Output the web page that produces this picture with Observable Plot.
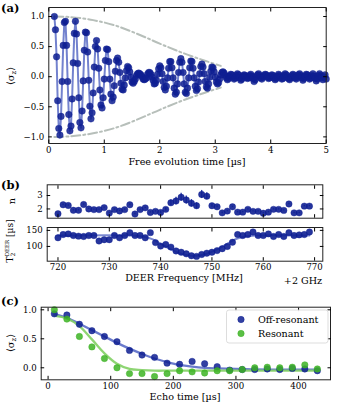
<!DOCTYPE html>
<html><head><meta charset="utf-8">
<script src="https://cdn.jsdelivr.net/npm/d3@7"></script>
<script src="https://cdn.jsdelivr.net/npm/@observablehq/plot@0.6"></script>
<style>
body{margin:0;background:#fff;}
#fig{position:relative;width:339px;height:414px;overflow:hidden;background:#fff;font-family:"DejaVu Serif",serif;}
#fig svg{position:absolute;left:0;}
</style></head><body><div id="fig"></div>
<script>
// ---------- Panel (a): free evolution ----------
const tStart = 0.1, tStep = 0.02;
const decayZ = [
 1.00, 0.78, 0.33,-0.40,-0.86,-0.97,-0.66,-0.08, 0.52, 0.90,
 0.92, 0.52,-0.08,-0.63,-0.90,-0.82,-0.37, 0.23, 0.72, 0.92,
 0.71, 0.22,-0.35,-0.76,-0.85,-0.57,-0.07, 0.44, 0.74, 0.73,
 0.41,-0.06,-0.49,-0.70,-0.60,-0.27, 0.16, 0.50, 0.60, 0.46,
 0.14,-0.22,-0.47,-0.52,-0.35,-0.04, 0.27, 0.46, 0.45, 0.25,
-0.04,-0.29,-0.40,-0.34,-0.15, 0.09, 0.27, 0.31, 0.24, 0.07,
-0.11,-0.21,-0.22,-0.14,-0.02, 0.10, 0.17, 0.15, 0.08,-0.01,
-0.09,-0.11,-0.08,-0.04, 0.02, 0.05, 0.06, 0.05, 0.03, 0.00,
-0.04,-0.05,-0.04,-0.02, 0.04, 0.07, 0.07, 0.04,-0.01,-0.06,
-0.12,-0.11,-0.06, 0.04, 0.13, 0.18, 0.15, 0.05,-0.08,-0.18,
-0.22,-0.16,-0.02, 0.14, 0.25, 0.25, 0.15,-0.02,-0.19,-0.29,
-0.26,-0.12, 0.07, 0.24, 0.30, 0.24, 0.07,-0.12,-0.26,-0.28,
-0.19,-0.02, 0.15, 0.26, 0.25, 0.14,-0.02,-0.16,-0.23,-0.20,
-0.09, 0.05, 0.17, 0.21, 0.16, 0.05,-0.08,-0.17,-0.19,-0.12,
-0.01, 0.09, 0.16, 0.15, 0.08,-0.01,-0.09,-0.12,-0.10,-0.04,
 0.03, 0.07, 0.08, 0.06, 0.02,
-0.02,-0.05,-0.03, 0.01, 0.04, 0.03,-0.01,-0.04,-0.02, 0.02,
 0.05, 0.03,-0.02,-0.06,-0.04, 0.01, 0.03, 0.02,-0.01,-0.03,
-0.02, 0.02, 0.04, 0.01,-0.03,-0.08,-0.05, 0.00, 0.03, 0.05,
 0.02,-0.02,-0.04,-0.01, 0.02, 0.04, 0.03, 0.00,-0.03,-0.02,
 0.01, 0.03, 0.02,-0.02,-0.05,-0.03, 0.01, 0.04, 0.02,-0.01,
-0.04,-0.03, 0.02, 0.05, 0.03,-0.01,-0.03,-0.05,-0.02, 0.02,
 0.04, 0.02,-0.02,-0.04,-0.01, 0.03, 0.05, 0.02,-0.02,-0.06,
-0.03, 0.01, 0.04, 0.03,-0.01,-0.04,-0.02, 0.02, 0.05, 0.01,
-0.03,-0.07,-0.04, 0.02, 0.05, 0.02,-0.02,-0.05, 0.00, 0.03,-0.04
];
const envT = [0.1, 0.4, 0.8, 1.2, 1.6, 2.0, 2.4, 2.8, 3.1];
const envZ = [1.0, 0.99, 0.94, 0.85, 0.71, 0.55, 0.40, 0.27, 0.18];
const aTicksX = [0, 1, 2, 3, 4, 5];
const aTicksY = [-1, -0.5, 0, 0.5, 1];

// ---------- Panel (b): DEER spectroscopy ----------
const freqMHz = d3.range(720, 770);
const nVals = [
 1.64,2.31,2.26,1.90,1.90,2.33,2.00,1.95,1.95,2.10,
 1.69,1.95,1.85,1.95,2.31,1.62,1.95,2.08,1.74,1.82,
 1.74,1.97,2.46,2.59,2.87,2.67,2.42,2.24,3.08,2.95,
 2.24,2.16,1.71,1.84,2.16,1.76,1.76,1.97,1.82,1.82,
 1.68,1.76,1.97,1.97,1.89,2.37,1.71,1.71,2.21,2.21];
const nErr = [
 0.05,0.05,0.05,0.05,0.05,0.05,0.05,0.05,0.05,0.05,
 0.05,0.05,0.05,0.05,0.05,0.05,0.05,0.05,0.05,0.06,
 0.10,0.12,0.20,0.28,0.30,0.30,0.28,0.22,0.30,0.25,
 0.12,0.08,0.06,0.05,0.05,0.05,0.05,0.05,0.05,0.05,
 0.05,0.05,0.05,0.05,0.05,0.05,0.05,0.05,0.05,0.05];
const t2Vals = [
 127,137,139,134,132,131,134,134,117,121,
 121,134,127,134,143,134,134,127,143,112,
 101,106, 98, 86, 82, 77, 71, 69, 75, 79,
  82, 87, 93,100,113,137,134,137,145,134,
 134,139,131,137,131,143,134,136,137,145];
const fitFreq = [720,734.5,736.5,738.5,739.5,740.5,741.5,742.5,743.5,744.5,745.5,746.5,747.5,748.5,749.5,750.5,751.5,752.5,753.5,754.5,756.5,758.5,769];
const fitT2   = [134,134,131,122,113,104,95,87,80,75,72,71,72,75,80,87,95,104,113,122,131,134,134];
const bTicksX = [720, 730, 740, 750, 760, 770];
const nTicks = [2, 3];
const t2Ticks = [100, 150];

// ---------- Panel (c): echo decay ----------
const echoT = d3.range(10, 431, 20);
const offRes = [0.93,0.91,0.75,0.64,0.54,0.45,0.30,0.22,0.18,0.08,0.06,0.11,0.07,0.02,-0.04,-0.03,-0.03,-0.02,-0.03,-0.01,-0.02,-0.05];
const resonant = [1.00,0.84,0.54,0.36,0.16,0.00,-0.10,-0.10,-0.15,-0.10,-0.05,-0.07,-0.09,-0.05,-0.05,-0.03,0.00,0.01,0.00,0.01,0.05,-0.02];
const fitEcho = [10,30,50,70,90,110,130,150,170,190,210,230,250,270,300,350,430];
const offFit = [0.93,0.86,0.76,0.65,0.54,0.43,0.33,0.24,0.16,0.10,0.05,0.02,0.00,-0.01,-0.02,-0.03,-0.03];
const resFit = [0.90,0.85,0.72,0.49,0.25,0.07,-0.02,-0.04,-0.05,-0.05,-0.05,-0.05,-0.05,-0.05,-0.05,-0.05,-0.05];
const cTicksX = [0, 100, 200, 300, 400];
const cTicksY = [0, 0.5, 1];
const legendNames = ["Off-resonant", "Resonant"];

// ---------- styling ----------
const BLUE = "#0e1f92", BLUE_LINE = "#5a6cc6", GREEN = "#3db424", GREEN_LINE = "#82d064", GRAY = "#b7bfba";
const style = {fontFamily: '"DejaVu Serif", serif', fontSize: "8.6px", background: "transparent", color: "#000", overflow: "visible"};
const fmt1 = d3.format(".1f");
const TS = -3.5;
const fig = document.getElementById("fig");
function place(svg, top) { svg.style.position = "absolute"; svg.style.top = top + "px"; svg.style.left = "0px"; fig.appendChild(svg); return d3.select(svg); }
function frameAxes(xt, yt, xfmt, yfmt) {
  return [
    Plot.frame({stroke: "#222", strokeWidth: 1}),
    Plot.axisX(xt, {anchor: "bottom", tickSize: TS, tickPadding: xfmt ? 6.5 : 0, tickFormat: xfmt || (() => ""), label: null}),
    Plot.axisX(xt, {anchor: "top", tickSize: TS, tickFormat: () => "", label: null}),
    Plot.axisY(yt, {anchor: "left", tickSize: TS, tickPadding: 8, tickFormat: yfmt, label: null}),
    Plot.axisY(yt, {anchor: "right", tickSize: TS, tickFormat: () => "", label: null})
  ];
}
function txt(sel, x, y, s, o = {}) {
  return sel.append("text").attr("x", x).attr("y", y).attr("text-anchor", o.anchor || "middle")
    .attr("font-size", o.size || 9.6).attr("font-weight", o.weight || "normal")
    .attr("font-family", '"DejaVu Serif", serif').attr("fill", "#000").text(s);
}
function sigmaLabel(sel, x, y) {
  const t = sel.append("text").attr("transform", `translate(${x},${y}) rotate(-90)`).attr("text-anchor", "middle")
    .attr("font-size", 9.8).attr("font-family", '"DejaVu Serif", serif').attr("fill", "#000");
  t.append("tspan").text("\u27E8\u03C3");
  t.append("tspan").attr("font-size", 7).attr("dy", 2).text("z");
  t.append("tspan").attr("dy", -2).text("\u27E9");
}

// ---------- (a) ----------
const aData = decayZ.map((z, i) => ({t: tStart + i * tStep, z}));
const envData = envT.map((t, i) => ({t, z: envZ[i]}));
const svgA = Plot.plot({
  width: 339, height: 170, marginLeft: 48.3, marginRight: 13.3, marginTop: 7, marginBottom: 27,
  x: {domain: [0, 5]}, y: {domain: [-1.11, 1.15]}, style,
  marks: [
    Plot.line(envData, {x: "t", y: "z", stroke: GRAY, strokeWidth: 2, strokeDasharray: "9,3,2,3", curve: "catmull-rom"}),
    Plot.line(envData, {x: "t", y: d => -d.z, stroke: GRAY, strokeWidth: 2, strokeDasharray: "9,3,2,3", curve: "catmull-rom"}),
    Plot.line(aData, {x: "t", y: "z", stroke: BLUE_LINE, strokeWidth: 2, strokeOpacity: 0.85}),
    Plot.dot(aData, {x: "t", y: "z", r: 3.3, fill: BLUE, fillOpacity: 0.85, stroke: BLUE, strokeOpacity: 0.5, strokeWidth: 0.8}),
    ...frameAxes(aTicksX, aTicksY, d3.format("d"), fmt1)
  ]
});
const gA = place(svgA, 0);
txt(gA, 187, 165, "Free evolution time [\u00B5s]");
sigmaLabel(gA, 14, 76);
txt(gA, 1, 12, "(a)", {anchor: "start", size: 11.5, weight: "bold"});

// ---------- (b) top ----------
const bData = freqMHz.map((f, i) => ({f, n: nVals[i], e: nErr[i], t2: t2Vals[i]}));
const fitData = fitFreq.map((f, i) => ({f, t2: fitT2[i]}));
const xB = {domain: [717.9, 771.6]};
const svgB1 = Plot.plot({
  width: 339, height: 50, marginLeft: 46.7, marginRight: 16.7, marginTop: 14.3, marginBottom: 2.3,
  x: xB, y: {domain: [1.31, 3.8]}, style,
  marks: [
    Plot.ruleX(bData, {x: "f", y1: d => d.n - d.e, y2: d => d.n + d.e, stroke: "#3345ad", strokeWidth: 1.4}),
    Plot.dot(bData, {x: "f", y: "n", r: 3.2, fill: BLUE, fillOpacity: 0.9, stroke: BLUE, strokeOpacity: 0.5, strokeWidth: 0.8}),
    ...frameAxes(bTicksX, nTicks, null, d3.format("d"))
  ]
});
const gB1 = place(svgB1, 170);
txt(gB1, 1, 19, "(b)", {anchor: "start", size: 11.5, weight: "bold"});
gB1.append("text").attr("transform", "translate(15,31) rotate(-90)").attr("text-anchor", "middle")
  .attr("font-size", 9.8).attr("font-family", '"DejaVu Serif", serif').text("n");

// ---------- (b) bottom ----------
const svgB2 = Plot.plot({
  width: 339, height: 70, marginLeft: 46.7, marginRight: 16.7, marginTop: 7, marginBottom: 29.3,
  x: xB, y: {domain: [54, 159]}, style,
  marks: [
    Plot.line(fitData, {x: "f", y: "t2", stroke: BLUE_LINE, strokeWidth: 2, strokeOpacity: 0.8, curve: "catmull-rom"}),
    Plot.dot(bData, {x: "f", y: "t2", r: 3.2, fill: BLUE, fillOpacity: 0.9, stroke: BLUE, strokeOpacity: 0.5, strokeWidth: 0.8}),
    ...frameAxes(bTicksX, t2Ticks, d3.format("d"), d3.format("d"))
  ]
});
const gB2 = place(svgB2, 220);
txt(gB2, 184, 61, "DEER Frequency [MHz]");
txt(gB2, 303, 64, "+2 GHz");
{
  const t = gB2.append("text").attr("transform", "translate(13,21) rotate(-90)").attr("text-anchor", "middle")
    .attr("font-size", 9).attr("font-family", '"DejaVu Serif", serif').attr("fill", "#000");
  t.append("tspan").text("T");
  t.append("tspan").attr("font-size", 6).attr("dy", 2).text("2");
  t.append("tspan").attr("font-size", 5.5).attr("dx", -3.6).attr("dy", -6).text("DEER");
  t.append("tspan").attr("dy", 4).text(" [\u00B5s]");
}

// ---------- (c) ----------
const cData = echoT.flatMap((t, i) => [
  {t, z: offRes[i], s: legendNames[0]},
  {t, z: resonant[i], s: legendNames[1]}
]);
const cFit = fitEcho.flatMap((t, i) => [
  {t, z: offFit[i], s: legendNames[0]},
  {t, z: resFit[i], s: legendNames[1]}
]);
const svgC = Plot.plot({
  width: 339, height: 124, marginLeft: 40.7, marginRight: 9, marginTop: 16.7, marginBottom: 34.7,
  x: {domain: [-11, 451]}, y: {domain: [-0.207, 1.045]},
  color: {domain: legendNames, range: [BLUE, GREEN]}, style,
  marks: [
    Plot.line(cFit, {x: "t", y: "z", z: "s", stroke: d => d.s === legendNames[0] ? BLUE_LINE : GREEN_LINE, strokeWidth: 2.3, strokeOpacity: 0.9, curve: "catmull-rom"}),
    Plot.dot(cData, {x: "t", y: "z", fill: "s", r: 3.2, fillOpacity: 0.85, stroke: "s", strokeOpacity: 0.6, strokeWidth: 0.8}),
    ...frameAxes(cTicksX, cTicksY, d3.format("d"), fmt1)
  ]
});
const gC = place(svgC, 290);
txt(gC, 185, 110, "Echo time [\u00B5s]");
sigmaLabel(gC, 14, 53);
txt(gC, 1, 15, "(c)", {anchor: "start", size: 11.5, weight: "bold"});
// legend
const lg = gC.append("g");
lg.append("rect").attr("x", 226.5).attr("y", 20).attr("width", 101.5).attr("height", 33).attr("rx", 2.5)
  .attr("fill", "rgba(255,255,255,0.85)").attr("stroke", "#d4d4d4").attr("stroke-width", 0.8);
legendNames.forEach((name, i) => {
  const col = i === 0 ? BLUE : GREEN;
  lg.append("circle").attr("cx", 241).attr("cy", 29.5 + i * 14).attr("r", 3.2).attr("fill", col)
    .attr("fill-opacity", 0.85).attr("stroke", col).attr("stroke-opacity", 0.6).attr("stroke-width", 0.8);
  txt(lg, 258, 33 + i * 14, name, {anchor: "start"});
});
</script></body></html>
